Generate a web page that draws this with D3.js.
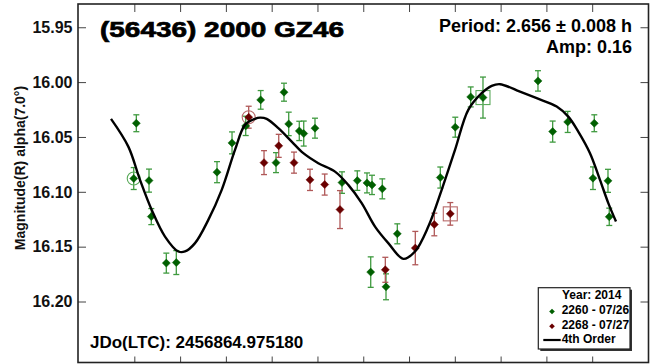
<!DOCTYPE html>
<html><head><meta charset="utf-8">
<script src="https://cdn.jsdelivr.net/npm/d3@7"></script>
<style>
html,body{margin:0;padding:0;background:#fff;}
svg{display:block;font-family:"Liberation Sans",Arial,sans-serif;}
</style></head>
<body><svg id="c" width="657" height="364"></svg>
<script>
// ---- data ----
const titleText = "(56436) 2000 GZ46";
const periodText = "Period: 2.656 \u00b1 0.008 h";
const ampText = "Amp: 0.16";
const jdText = "JDo(LTC): 2456864.975180";
const yLabel = "Magnitude(R) alpha(7.0\u00b0)";
const yTicks = [15.95, 16.00, 16.05, 16.10, 16.15, 16.20];
const xTicks = [0.0, 0.1, 0.2, 0.3, 0.4, 0.5, 0.6, 0.7, 0.8, 0.9, 1.0];
const xDomain = [-0.123, 1.123];
const yDomain = [15.9288, 16.2556];

// session 2260 - 07/26 (green)
const s1Phase = [0.0044,-0.0013,0.0321,0.0371,0.0699,0.0917,0.1806,0.2134,0.2433,0.2760,0.3269,0.3095,0.3372,0.3603,0.3700,0.3946,0.4536,0.4870,0.5082,0.5191,0.5163,0.5416,0.5744,0.5497,0.6683,0.7010,0.7347,0.7615,0.8816,0.9137,0.9465,1.0046,1.0017,1.0345,1.0373];
const s1Mag   = [16.0375,16.0879,16.0898,16.1226,16.1650,16.1645,16.0821,16.0554,16.0399,16.0162,16.0092,16.0734,16.0381,16.0445,16.0469,16.0420,16.0916,16.0898,16.0919,16.0937,16.1732,16.0973,16.1383,16.1866,16.0870,16.0411,16.0135,16.0141,15.9989,16.0451,16.0363,16.0375,16.0876,16.0900,16.1228];
const s1Err   = [0.0077,0.0100,0.0105,0.0073,0.0091,0.0109,0.0096,0.0100,0.0088,0.0085,0.0082,0.0091,0.0107,0.0088,0.0114,0.0091,0.0098,0.0089,0.0091,0.0088,0.0139,0.0091,0.0091,0.0118,0.0096,0.0091,0.0091,0.0187,0.0093,0.0096,0.0096,0.0077,0.0103,0.0105,0.0079];
// session 2268 - 07/27 (red)
const s2Phase = [0.2498,0.2833,0.3154,0.3488,0.3837,0.4158,0.4492,0.5482,0.6137,0.6552,0.6901];
const s2Mag   = [16.0320,16.0734,16.0581,16.0734,16.0891,16.0934,16.1162,16.1711,16.1513,16.1298,16.1201];
const s2Err   = [0.0100,0.0109,0.0105,0.0096,0.0097,0.0096,0.0173,0.0114,0.0152,0.0103,0.0103];
// first (circle) / last (square) point markers: [phase, mag, session, shape]
const markPhase = [-0.0013, 0.7615, 0.2498, 0.6901];
const markMag   = [16.0879, 16.0141, 16.0320, 16.1201];
const markSess  = [0, 0, 1, 1];
const markShape = ["circle", "square", "circle", "square"];
// 4th order fit curve
const fitPhase = [-0.0509,-0.0131,0.0124,0.0380,0.0670,0.0961,0.1107,0.1326,0.1616,0.1909,0.2199,0.2418,0.2636,0.2745,0.2891,0.3145,0.3437,0.3691,0.4018,0.4383,0.4673,0.4966,0.5257,0.5547,0.5875,0.6130,0.6421,0.6713,0.7004,0.7294,0.7587,0.7805,0.7987,0.8423,0.8788,0.9225,0.9478,0.9696,0.9952,1.0170,1.0352,1.0520];
const fitMag   = [16.0335,16.0588,16.0891,16.1165,16.1408,16.1544,16.1544,16.1468,16.1256,16.0982,16.0618,16.0390,16.0335,16.0324,16.0335,16.0420,16.0542,16.0648,16.0739,16.0816,16.0937,16.1103,16.1317,16.1468,16.1611,16.1544,16.1317,16.0982,16.0618,16.0253,16.0101,16.0035,16.0019,16.0087,16.0147,16.0223,16.0315,16.0451,16.0648,16.0891,16.1103,16.1271];
const legendTitle = "Year: 2014";
const legendLabels = ["2260 - 07/26", "2268 - 07/27", "4th Order"];

// ---- styles ----
const fillCol = ["#005f00", "#6a0000"];
const errCol = ["#3f9a3f", "#b05858"];
const markCol = ["#5aaa5a", "#b86a6a"];

const svg = d3.select("#c");
const L = 78, R = 648.5, T = 4, B = 362.5;
const x = d3.scaleLinear().domain(xDomain).range([L, R]);
const y = d3.scaleLinear().domain(yDomain).range([T, B]);

// axes ticks (inside)
const g = svg.append("g");
g.append("g").attr("transform", `translate(0,${T})`)
  .call(d3.axisBottom(x).tickValues(xTicks).tickSize(8).tickFormat(""))
  .call(a => { a.select(".domain").remove(); a.selectAll("line").attr("stroke", "#444"); });
g.append("g").attr("transform", `translate(0,${B})`)
  .call(d3.axisTop(x).tickValues(xTicks).tickSize(6).tickFormat(""))
  .call(a => { a.select(".domain").remove(); a.selectAll("line").attr("stroke", "#444"); });
g.append("g").attr("transform", `translate(${L},0)`)
  .call(d3.axisRight(y).tickValues(yTicks).tickSize(8).tickFormat(""))
  .call(a => { a.select(".domain").remove(); a.selectAll("line").attr("stroke", "#444"); });
g.append("g").attr("transform", `translate(${R},0)`)
  .call(d3.axisLeft(y).tickValues(yTicks).tickSize(8).tickFormat(""))
  .call(a => { a.select(".domain").remove(); a.selectAll("line").attr("stroke", "#444"); });

// y tick labels
svg.append("g").selectAll("text").data(yTicks).join("text")
  .attr("x", 72.5).attr("y", d => y(d) + 5.8)
  .attr("text-anchor", "end").attr("font-size", 16).attr("font-weight", "bold")
  .attr("fill", "#111").text(d => d.toFixed(2));

// y label
svg.append("text").attr("transform", "translate(24.5,168) rotate(-90)")
  .attr("text-anchor", "middle").attr("font-size", 14).attr("font-weight", "bold")
  .attr("fill", "#111").text(yLabel);

// frame
svg.append("rect").attr("x", L).attr("y", T).attr("width", R - L).attr("height", B - T)
  .attr("fill", "none").attr("stroke", "#222").attr("stroke-width", 1.6);

// texts
svg.append("text").attr("x", 100).attr("y", 37.3).attr("font-size", 22).attr("font-weight", "bold")
  .attr("textLength", 244).attr("lengthAdjust", "spacingAndGlyphs")
  .attr("stroke", "#000").attr("stroke-width", 0.7).attr("fill", "#000").text(titleText);
svg.append("text").attr("x", 632).attr("y", 31.7).attr("text-anchor", "end")
  .attr("font-size", 18).attr("font-weight", "bold").attr("fill", "#000").text(periodText);
svg.append("text").attr("x", 632).attr("y", 52.5).attr("text-anchor", "end")
  .attr("font-size", 18).attr("font-weight", "bold").attr("fill", "#000").text(ampText);
svg.append("text").attr("x", 90).attr("y", 347.7)
  .attr("font-size", 17).attr("font-weight", "bold").attr("fill", "#000").text(jdText);

// data series
const diamond = (cx, cy, r) => `M${cx},${cy - r}L${cx + r},${cy}L${cx},${cy + r}L${cx - r},${cy}Z`;
const sessions = [
  s1Phase.map((p, i) => ({ p, m: s1Mag[i], e: s1Err[i] })),
  s2Phase.map((p, i) => ({ p, m: s2Mag[i], e: s2Err[i] }))
];
const pts = svg.append("g");
sessions.forEach((data, si) => {
  const sg = pts.append("g");
  data.forEach(d => {
    const cx = x(d.p), cy = y(d.m), y0 = y(d.m - d.e), y1 = y(d.m + d.e);
    sg.append("line").attr("x1", cx).attr("x2", cx).attr("y1", y0).attr("y2", y1)
      .attr("stroke", errCol[si]).attr("stroke-width", 1.3);
    [y0, y1].forEach(yy => sg.append("line").attr("x1", cx - 3).attr("x2", cx + 3)
      .attr("y1", yy).attr("y2", yy).attr("stroke", errCol[si]).attr("stroke-width", 1.3));
  });
});
// markers
markPhase.forEach((p, i) => {
  const cx = x(p), cy = y(markMag[i]);
  if (markShape[i] === "circle") {
    pts.append("circle").attr("cx", cx).attr("cy", cy).attr("r", 6.5)
      .attr("fill", "none").attr("stroke", markCol[markSess[i]]).attr("stroke-width", 1.1);
  } else {
    pts.append("rect").attr("x", cx - 7).attr("y", cy - 7).attr("width", 14).attr("height", 14)
      .attr("fill", "none").attr("stroke", markCol[markSess[i]]).attr("stroke-width", 1.1);
  }
});
sessions.forEach((data, si) => {
  pts.append("g").selectAll("path").data(data).join("path")
    .attr("d", d => diamond(x(d.p), y(d.m), 4))
    .attr("fill", fillCol[si]).attr("stroke", fillCol[si]).attr("stroke-width", 0.5);
});

// fit curve
const fit = fitPhase.map((p, i) => [p, fitMag[i]]);
svg.append("path").datum(fit)
  .attr("d", d3.line().x(d => x(d[0])).y(d => y(d[1])).curve(d3.curveCatmullRom.alpha(0.5)))
  .attr("fill", "none").attr("stroke", "#000").attr("stroke-width", 2.4);

// legend
const lg = svg.append("g");
lg.append("rect").attr("x", 540.3).attr("y", 289.7).attr("width", 91.7).attr("height", 61.3).attr("fill", "#333");
lg.append("rect").attr("x", 538.3).attr("y", 287.7).attr("width", 91.7).attr("height", 61.3)
  .attr("fill", "#fff").attr("stroke", "#222").attr("stroke-width", 1.2);
lg.append("text").attr("x", 591.7).attr("y", 299.3).attr("text-anchor", "middle")
  .attr("font-size", 12).attr("font-weight", "bold").attr("fill", "#000").text(legendTitle);
const rowY = [314, 328.7, 343.3];
legendLabels.forEach((t, i) => {
  lg.append("text").attr("x", 561.7).attr("y", rowY[i]).attr("font-size", 12)
    .attr("font-weight", "bold").attr("fill", "#000").text(t);
});
[0, 1].forEach(i => lg.append("path").attr("d", diamond(552, rowY[i] - 2.5, 2.8)).attr("fill", fillCol[i]));
lg.append("line").attr("x1", 543.3).attr("x2", 560.7).attr("y1", 340).attr("y2", 340)
  .attr("stroke", "#000").attr("stroke-width", 2.2);
</script>
</body></html>
